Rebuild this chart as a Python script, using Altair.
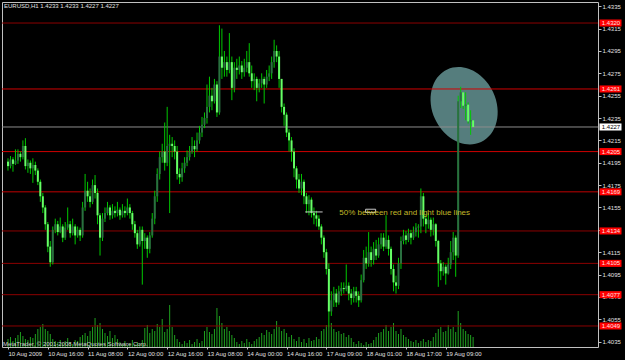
import json
import altair as alt
import pandas as pd

# EURUSD H1, bar 0 = 10 Aug 2009 00:00. Prices in pips above 1.4000 (price = 1.4000 + pips/10000)
first_open_pips = 196
close_pips = [
    192, 198, 194, 197, 203, 200, 210, 192, 195, 190, 193, 188, 178, 165, 155, 140, 120, 106, 135, 140,
    133, 138, 128, 137, 140, 132, 138, 130, 135, 130, 155, 170, 165, 160, 175, 168, 148, 128, 145, 150,
    155, 148, 152, 150, 153, 148, 152, 150, 155, 150, 140, 132, 122, 135, 125, 128, 118, 130, 145, 165,
    185, 200, 205, 195, 210, 212, 210, 205, 185, 182, 190, 195, 200, 205, 210, 207, 215, 222, 229, 235,
    245, 255, 250, 265, 240, 290, 280, 285, 278, 285, 262, 280, 278, 282, 276, 280, 285, 275, 268, 270,
    262, 266, 270, 265, 272, 275, 285, 295, 290, 270, 245, 238, 222, 215, 205, 190, 180, 172, 178, 165,
    158, 162, 150, 148, 145, 138, 128, 115, 100, 62, 72, 78, 70, 80, 83, 82, 85, 78, 74, 80,
    76, 72, 90, 110, 105, 115, 108, 118, 112, 122, 128, 120, 126, 118, 100, 88, 85, 105, 125, 130,
    126, 132, 128, 133, 137, 138, 165, 145, 140, 144, 135, 140, 125, 105, 98, 102, 96, 104, 115, 128,
    112, 250, 258, 246, 247, 232, 233, 227,
]
high_pips = [
    199, 201, 200, 207, 207, 205, 215, 217, 198, 197, 199, 196, 190, 180, 168, 157, 142, 125, 138, 145,
    143, 146, 140, 142, 155, 143, 145, 140, 138, 137, 160, 185, 178, 172, 180, 184, 172, 150, 150, 155,
    160, 157, 158, 156, 160, 155, 158, 156, 163, 158, 152, 143, 135, 138, 138, 132, 130, 133, 150, 170,
    190, 205, 212, 231, 245, 220, 218, 215, 210, 190, 195, 200, 206, 210, 218, 215, 222, 228, 236, 240,
    265, 272, 262, 270, 268, 318, 315, 295, 290, 311, 290, 285, 288, 290, 286, 288, 295, 302, 282, 275,
    272, 270, 275, 272, 278, 282, 290, 305, 300, 295, 270, 248, 240, 225, 218, 208, 192, 185, 185, 180,
    168, 166, 164, 155, 152, 148, 140, 130, 118, 105, 80, 84, 82, 85, 88, 88, 104, 88, 82, 84,
    84, 80, 95, 117, 120, 133, 120, 124, 126, 128, 132, 132, 148, 130, 120, 104, 94, 110, 129, 135,
    134, 136, 135, 138, 141, 140, 172, 168, 148, 150, 146, 146, 141, 126, 108, 106, 104, 110, 125, 133,
    130, 255, 263, 258, 258, 249, 242, 233,
]
low_pips = [
    188, 190, 187, 193, 194, 196, 198, 189, 186, 185, 177, 184, 175, 160, 150, 135, 115, 102, 104, 132,
    130, 132, 124, 126, 135, 128, 130, 122, 128, 125, 128, 152, 160, 155, 158, 163, 140, 112, 125, 142,
    148, 144, 145, 146, 147, 144, 146, 146, 148, 145, 135, 128, 118, 120, 86, 118, 110, 114, 128, 140,
    160, 180, 195, 188, 192, 150, 200, 198, 180, 176, 178, 186, 192, 197, 203, 200, 205, 212, 218, 226,
    230, 240, 242, 248, 236, 238, 270, 272, 272, 275, 251, 258, 270, 274, 270, 272, 276, 272, 262, 260,
    250, 258, 262, 248, 262, 268, 270, 280, 285, 262, 240, 228, 218, 205, 196, 182, 172, 168, 166, 158,
    150, 148, 146, 140, 138, 135, 122, 110, 95, 48, 58, 66, 66, 68, 76, 78, 80, 72, 68, 70,
    70, 66, 70, 88, 100, 102, 102, 104, 108, 110, 118, 116, 118, 112, 95, 80, 78, 82, 100, 122,
    122, 124, 122, 126, 129, 128, 132, 138, 132, 136, 129, 130, 120, 84, 90, 94, 86, 95, 100, 108,
    93, 110, 244, 243, 233, 230, 220, 227,
]
volume_ticks = [
    240, 300, 180, 270, 360, 450, 330, 240, 210, 300, 270, 390, 540,
    600, 690, 540, 480, 390,
    240, 180, 150, 210, 120, 180, 270, 150, 90, 210, 180, 300,
    360, 420, 330, 480, 600, 870, 660, 720, 540,
    420, 330, 480, 270, 360, 240,
    150, 90, 180, 60, 120, 210, 90, 150, 120, 210,
    570, 660, 420, 540, 480, 690, 600, 840, 450, 540, 1260, 600, 360,
    240, 150, 90, 180, 120, 210, 90, 150, 240, 120, 180,
    480, 600, 450, 390, 540, 1170, 930, 720, 540, 600, 480, 360, 270,
    150, 90, 180, 120, 240, 150, 90, 180, 240, 300,
    420, 360, 510, 450, 390, 540, 780, 600, 480, 540, 420, 300, 360, 240,
    180, 300, 150, 240, 120, 270, 180, 210, 300, 240,
    480, 540, 660, 600, 720, 540, 450, 480, 390, 420, 300, 360, 270,
    150, 90, 180, 120, 60, 150, 90, 120, 210, 300, 420,
    450, 540, 660, 480, 600, 720, 480, 390, 540, 360, 300, 240, 180,
    150, 210, 120, 180, 240, 150, 210, 180, 300,
    420, 540, 600, 450, 480, 660, 540, 600, 450, 1080, 720, 540, 480, 390, 360, 300,
]

date_tick_bars = [0, 16, 32, 48, 64, 80, 96, 112, 128, 144, 160, 176]
date_labels = ["10 Aug 2009", "10 Aug 16:00", "11 Aug 08:00", "12 Aug 00:00", "12 Aug 16:00",
               "13 Aug 08:00", "14 Aug 00:00", "14 Aug 16:00", "17 Aug 09:00", "18 Aug 01:00",
               "18 Aug 17:00", "19 Aug 09:00"]
price_ticks = [1.4035, 1.4055, 1.4075, 1.4095, 1.4115, 1.4135, 1.4155, 1.4175, 1.4195, 1.4215,
               1.4235, 1.4255, 1.4275, 1.4295, 1.4315, 1.4335]
level_prices = [1.4320, 1.4261, 1.4205, 1.4169, 1.4134, 1.4105, 1.4077, 1.4049]
level_colors = ["#8B0000", "#D00000", "#D00000", "#C00000", "#8B0000", "#8B0000", "#8B0000", "#8B0000"]
current_price = 1.4227
header_text = "EURUSD,H1  1.4233 1.4233 1.4227 1.4227"
copyright_text = "MetaTrader, \u00a9 2001-2008 MetaQuotes Software Corp."
note_text = "50% between red and light blue  lines"
note_bar, note_price = 133.2, 1.4150
note_box_bar, note_box_price = 145.8, 1.4152
note_seg_bars, note_seg_price = [119.5, 126.5], 1.4151
ellipse_bar, ellipse_price = 183.4, 1.4246

FONT = "Liberation Sans"
n = len(close_pips)
opens = [first_open_pips] + close_pips[:-1]
df = pd.DataFrame({
    "i": list(range(n)),
    "open": [1.4 + p / 10000 for p in opens],
    "close": [1.4 + p / 10000 for p in close_pips],
    "high": [1.4 + p / 10000 for p in high_pips],
    "low": [1.4 + p / 10000 for p in low_pips],
    "vol": volume_ticks,
})
df["dir"] = ["up" if c >= o else "down" for o, c in zip(df["open"], df["close"])]

xscale = alt.Scale(domain=[-0.4, 235.2], nice=False, zero=False)
yscale = alt.Scale(domain=[1.40302, 1.43388], nice=False, zero=False)
label_expr = json.dumps(date_labels) + "[round(datum.value/16)]"
x_axis = alt.Axis(values=date_tick_bars, labelExpr=label_expr, labelAlign="left", labelFont=FONT,
                  labelFontSize=6, labelColor="#E0E0E0", tickColor="#C0C0C0", tickSize=2,
                  labelPadding=1, domain=False, grid=False, title=None, labelOverlap=False,
                  labelFlush=False)
y_axis = alt.Axis(orient="right", values=price_ticks, format=".4f", labelFont=FONT, labelFontSize=6,
                  labelColor="#E0E0E0", tickColor="#C0C0C0", tickSize=3, labelPadding=1,
                  domain=False, grid=False, title=None, labelOverlap=False, labelFlush=False)


def X(field="i:Q"):
    return alt.X(field, scale=xscale, axis=x_axis)


def Y(field):
    return alt.Y(field, scale=yscale, axis=y_axis)


base = alt.Chart(df)

volume = base.mark_bar(size=1, color="#1FA01F").encode(
    x=X(), y=alt.Y("vol:Q", scale=alt.Scale(domain=[0, 10350], nice=False), axis=None)
)

ell_df = pd.DataFrame({"i": [ellipse_bar], "p": [ellipse_price]})
ellipse_path = ("M0,-1 C0.442,-1 0.8,-0.552 0.8,0 C0.8,0.552 0.442,1 0,1 "
                "C-0.442,1 -0.8,0.552 -0.8,0 C-0.8,-0.552 -0.442,-1 0,-1 Z")
ellipse = alt.Chart(ell_df).mark_point(shape=ellipse_path, filled=True, size=6400, angle=335,
                                        color="#557D7D", opacity=1, strokeWidth=0).encode(
    x=X(), y=Y("p:Q")
)

lv_df = pd.DataFrame({"p": level_prices, "c": level_colors,
                      "t": [f"{p:.4f}" for p in level_prices]})
levels = alt.Chart(lv_df).mark_rule(strokeWidth=1).encode(
    y=Y("p:Q"), color=alt.Color("c:N", scale=None)
)
cur_df = pd.DataFrame({"p": [current_price], "t": [f"{current_price:.4f}"]})
cur_line = alt.Chart(cur_df).mark_rule(strokeWidth=1, color="#8C8C8C").encode(y=Y("p:Q"))

wicks = base.mark_rule(strokeWidth=1, color="#00C800").encode(x=X(), y=Y("low:Q"), y2="high:Q")
bodies = base.mark_bar(size=2).encode(
    x=X(), y=Y("open:Q"), y2="close:Q",
    color=alt.Color("dir:N", scale=alt.Scale(domain=["up", "down"], range=["#2A7040", "#66FF66"]),
                    legend=None)
)

seg_df = pd.DataFrame({"i": [note_seg_bars[0]], "i2": [note_seg_bars[1]], "p": [note_seg_price]})
seg = alt.Chart(seg_df).mark_rule(color="#C8C8C8", strokeWidth=1).encode(
    x=X(), x2="i2:Q", y=Y("p:Q")
)
box_path = "M-1,-0.32 L1,-0.32 L1,0.32 L-1,0.32 Z"
nb_df = pd.DataFrame({"i": [note_box_bar], "p": [note_box_price]})
note_box = alt.Chart(nb_df).mark_point(shape=box_path, size=100, filled=False, color="#C8C8C8",
                                        strokeWidth=1, opacity=1).encode(x=X(), y=Y("p:Q"))
note_df = pd.DataFrame({"i": [note_bar], "p": [note_price], "t": [note_text]})
note = alt.Chart(note_df).mark_text(align="left", baseline="middle", font=FONT, fontSize=8,
                                    color="#C0B828").encode(x=X(), y=Y("p:Q"), text="t:N")

lv_boxes = alt.Chart(lv_df).mark_point(shape=box_path, size=484, filled=True, color="#FF0000",
                                        opacity=1, strokeWidth=0).encode(
    x=alt.value(608.5), y=Y("p:Q")
)
lv_text = alt.Chart(lv_df).mark_text(font=FONT, fontSize=6, color="#FFE0E0", baseline="middle").encode(
    x=alt.value(609), y=Y("p:Q"), text="t:N"
)
cur_box = alt.Chart(cur_df).mark_point(shape=box_path, size=484, filled=True, color="#FFFFFF",
                                        opacity=1, strokeWidth=0).encode(
    x=alt.value(608.5), y=Y("p:Q")
)
cur_text = alt.Chart(cur_df).mark_text(font=FONT, fontSize=6, color="#000000", baseline="middle").encode(
    x=alt.value(609), y=Y("p:Q"), text="t:N"
)

hdr = alt.Chart(pd.DataFrame({"t": [header_text]})).mark_text(
    align="left", baseline="middle", font=FONT, fontSize=6, color="#E0E0E0").encode(
    x=alt.value(2), y=alt.value(4), text="t:N")
cpy = alt.Chart(pd.DataFrame({"t": [copyright_text]})).mark_text(
    align="left", baseline="middle", font=FONT, fontSize=6, color="#D0D0D0").encode(
    x=alt.value(1), y=alt.value(342), text="t:N")

price_layer = alt.layer(ellipse, levels, cur_line, wicks, bodies, seg, note_box, note,
                        lv_boxes, lv_text, cur_box, cur_text, hdr, cpy)

chart = alt.layer(volume, price_layer).resolve_scale(y="independent").properties(
    width=596, height=345,
    autosize=alt.AutoSizeParams(type="none"),
    padding={"left": 2, "top": 2, "right": 27, "bottom": 13},
    background="#000000",
).configure_view(stroke="#C0C0C0", strokeWidth=1, fill="#000000")

chart.save("out.html", embed_options={"renderer": "svg", "actions": False})
